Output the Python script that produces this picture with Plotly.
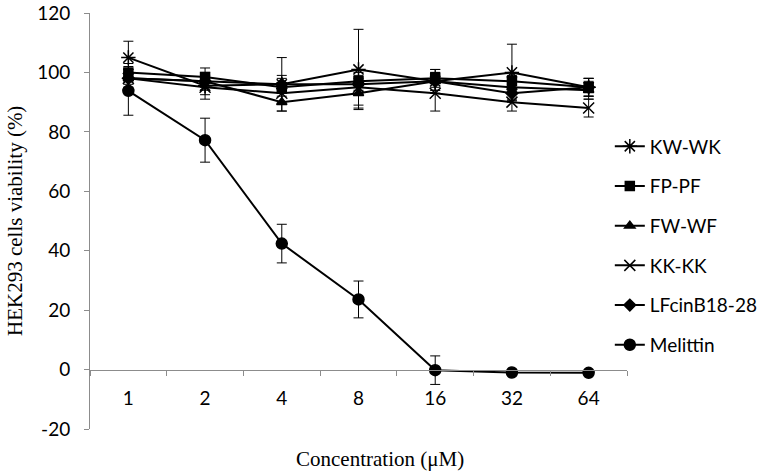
import plotly.graph_objects as go

concentrations = ["1", "2", "4", "8", "16", "32", "64"]

y_tick_values = [-20, 0, 20, 40, 60, 80, 100, 120]
y_tick_labels = ["-20", "0", "20", "40", "60", "80", "100", "120"]

kw_wk = [105.0, 95.5, 96.0, 101.0, 97.0, 100.0, 95.0]
kw_wk_err = [5.5, 3.0, 9.0, 13.5, 4.0, 9.5, 3.0]

fp_pf = [100.0, 98.5, 95.0, 97.0, 98.0, 97.0, 95.0]
fp_pf_err = [3.0, 3.0, 3.0, 3.0, 3.0, 3.0, 3.0]

fw_wf = [98.0, 97.0, 90.0, 93.0, 97.0, 95.0, 94.0]
fw_wf_err = [3.0, 3.0, 3.0, 5.0, 3.0, 4.0, 3.0]

kk_kk = [98.0, 95.0, 93.0, 95.0, 93.0, 90.0, 88.0]
kk_kk_err = [3.0, 4.0, 3.0, 6.0, 6.0, 3.0, 3.0]

lfcin = [98.0, 97.0, 96.0, 96.0, 97.0, 93.0, 95.0]
lfcin_err = [2.0, 2.0, 3.0, 3.0, 3.0, 3.0, 3.0]

melittin = [93.8, 77.2, 42.4, 23.6, -0.2, -1.0, -1.1]
melittin_err = [8.2, 7.4, 6.5, 6.2, 4.8, 0.0, 0.0]

series = [
    ("KW-WK", kw_wk, kw_wk_err, "asterisk-open", 12),
    ("FP-PF", fp_pf, fp_pf_err, "square", 9),
    ("FW-WF", fw_wf, fw_wf_err, "triangle-up", 9),
    ("KK-KK", kk_kk, kk_kk_err, "x-thin-open", 11),
    ("LFcinB18-28", lfcin, lfcin_err, "diamond", 9),
    ("Melittin", melittin, melittin_err, "circle", 11),
]

fig = go.Figure()
for i, (name, vals, errs, sym, size) in enumerate(series):
    fig.add_trace(go.Scatter(
        x=concentrations, y=vals, name=name, mode="lines+markers",
        line=dict(color="black", width=2),
        marker=dict(symbol=sym, size=size, color="black",
                    line=dict(color="black", width=1.5)),
        error_y=dict(type="data", array=errs, color="black", thickness=1, width=5),
        legendgroup=f"g{i}",
    ))

axis_gray = "#8c8c8c"
fig.update_layout(
    width=765, height=471,
    margin=dict(l=90, r=138, t=13, b=42, autoexpand=False),
    paper_bgcolor="white", plot_bgcolor="white",
    showlegend=True,
    legend=dict(x=0.968, xanchor="left", y=0.725, yanchor="top",
                font=dict(family="Lato", size=19, color="black"),
                tracegroupgap=12, bgcolor="rgba(0,0,0,0)"),
    xaxis=dict(type="category", categoryorder="array", categoryarray=concentrations,
               range=[-0.5, 6.5], anchor="free", position=20 / 140, automargin=False,
               showline=True, linecolor=axis_gray, linewidth=1,
               ticks="outside", tickson="boundaries", ticklen=5, tickcolor=axis_gray,
               showgrid=False, zeroline=False, ticklabelstandoff=12,
               tickfont=dict(family="Lato", size=19, color="black")),
    yaxis=dict(range=[-20, 120], tickmode="array", tickvals=y_tick_values,
               ticktext=y_tick_labels, automargin=False,
               showline=True, linecolor=axis_gray, linewidth=1,
               ticks="outside", ticklen=5, tickcolor=axis_gray,
               showgrid=False, zeroline=False, ticklabelstandoff=10,
               tickfont=dict(family="Lato", size=19, color="black")),
    annotations=[
        dict(text="Concentration (μM)", xref="paper", yref="paper",
             x=(380 - 90) / 537, y=-(459 - 429) / 416, xanchor="center", yanchor="middle",
             showarrow=False, font=dict(family="Liberation Serif", size=21, color="black")),
        dict(text="HEK293 cells viability (%)", xref="paper", yref="paper",
             x=-(90 - 15) / 537, y=(429 - 221) / 416, xanchor="center", yanchor="middle",
             textangle=-90, showarrow=False,
             font=dict(family="Liberation Serif", size=21, color="black")),
    ],
)

fig.write_html("out.html", config={"displayModeBar": False},
               post_script="document.body.style.margin='0';")
